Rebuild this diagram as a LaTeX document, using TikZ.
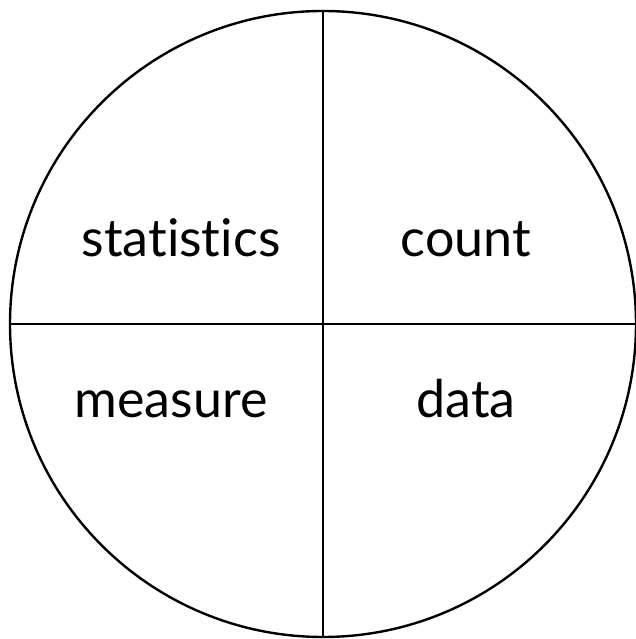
\documentclass[tikz,border=0pt]{standalone}
\usepackage{fontspec}
\setmainfont{Lato}[Ligatures={NoCommon,NoRequired,NoContextual,NoDiscretionary}]
\begin{document}
\begin{tikzpicture}[x=1pt,y=1pt,
  lbl/.style={font=\fontsize{52}{56}\selectfont, inner sep=0pt, anchor=base},
  ln/.style={line width=2.4pt, black}]
\useasboundingbox (0,0) rectangle (635,639);
\node[circle, draw, line width=2.4pt, minimum size=626pt, inner sep=0pt] (c) at (323,315) {};
\draw[ln] (c.north) -- (c.south);
\draw[ln] (c.west) -- (c.east);
\node[lbl] (stat) at (181,382) {statistics};
\node[lbl] (count) at (466,382) {count};
\node[lbl] (meas) at (171,221) {measure};
\node[lbl] (data) at (466,221) {data};
\end{tikzpicture}
\end{document}
